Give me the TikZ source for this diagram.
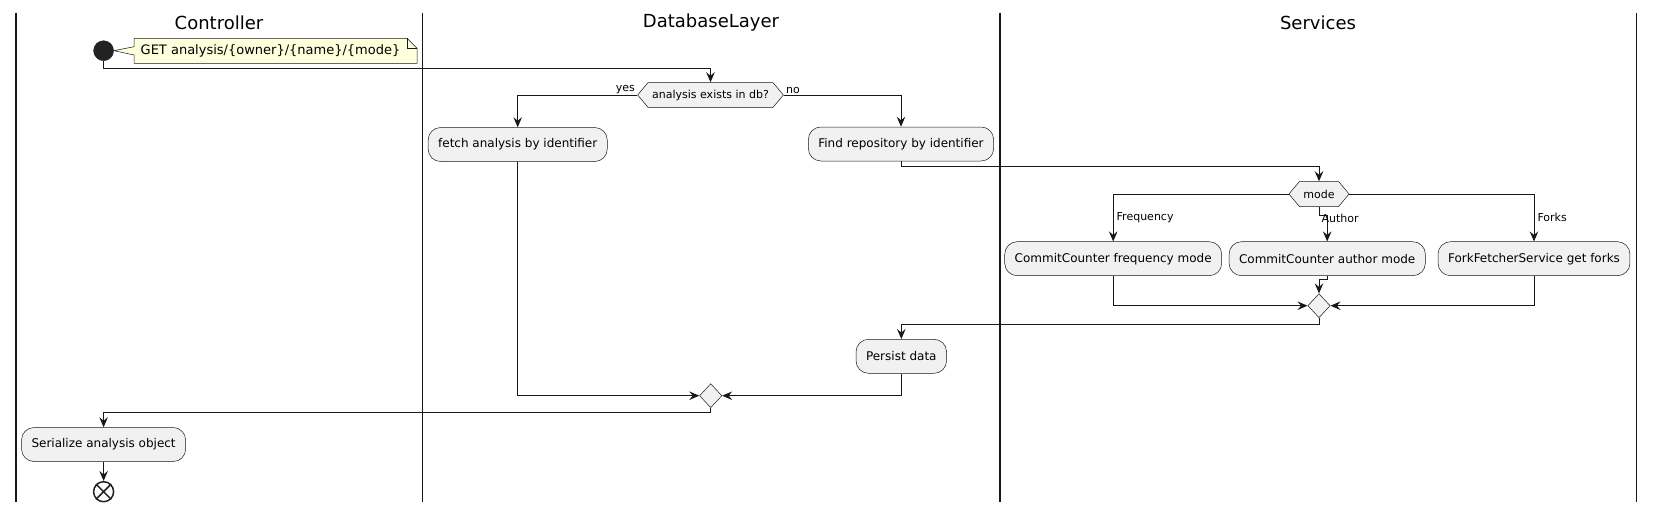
\documentclass[tikz,border=0pt]{standalone}
\usepackage{fontspec}
\setmainfont{DejaVu Sans}
\usetikzlibrary{arrows.meta,shapes.geometric,shapes.symbols,calc}
\definecolor{boxfill}{HTML}{F1F1F1}
\definecolor{ink}{HTML}{181818}
\definecolor{notefill}{HTML}{FEFFDD}
\definecolor{dot}{HTML}{222222}
\begin{document}
\begin{tikzpicture}[x=1pt,y=-1pt,
  lane/.style={draw=ink,line width=1.5pt},
  lanetitle/.style={font=\fontsize{18}{20}\selectfont,inner sep=0pt},
  act/.style={draw=ink,line width=0.5pt,fill=boxfill,rounded corners=12.5pt,
    minimum height=34pt,inner xsep=10pt,inner ysep=0pt,font=\fontsize{12}{14}\selectfont},
  hexa/.style={draw=ink,line width=0.5pt,fill=boxfill,shape=signal,signal to=west and east,
    signal pointer angle=100,minimum height=25pt,inner xsep=4pt,inner ysep=0pt,
    font=\fontsize{11}{13}\selectfont},
  merge/.style={draw=ink,line width=0.5pt,fill=boxfill,shape=diamond,inner sep=0pt,
    minimum width=22.4pt,minimum height=24pt},
  lbl/.style={font=\fontsize{11}{13}\selectfont,inner sep=2pt},
  flow/.style={draw=ink,line width=1pt,-{Stealth[length=10pt,width=8.5pt,inset=3.5pt]}},
]
\useasboundingbox (0,0) rectangle (1655,512);
% swimlanes
\draw[lane] (15.8,12.7) -- (15.8,501.7);
\draw[lane] (422.5,12.7) -- (422.5,501.7);
\draw[lane] (1000,12.7) -- (1000,501.7);
\draw[lane] (1636.5,12.7) -- (1636.5,501.7);
\node[lanetitle] (t1) at (219,23) {Controller};
\node[lanetitle] (t2) at (711,23) {DatabaseLayer};
\node[lanetitle] (t3) at (1318,23) {Services};
% start and note
\node[circle,fill=dot,draw=dot,minimum size=20pt,inner sep=0pt] (start) at (103.6,50.7) {};
\draw[draw=ink,line width=0.5pt,fill=notefill] (134,38.3) -- (407,38.3) -- (417,48.3) -- (417,63.3)
  -- (134,63.3) -- (134,55) -- (114,50.7) -- (134,46.7) -- cycle;
\draw[draw=ink,line width=0.5pt] (407,38.3) -- (407,48.3) -- (417,48.3);
\node[anchor=west,inner sep=0pt,font=\fontsize{13}{15}\selectfont] (note) at (140.5,51) {GET analysis/\{owner\}/\{name\}/\{mode\}};
% nodes
\node[hexa] (q1) at (710.5,95) {analysis exists in db?};
\node[act] (fetch) at (517.7,144.5) {fetch analysis by identifier};
\node[act] (find) at (901,144) {Find repository by identifier};
\node[hexa] (mode) at (1319,194) {mode};
\node[act] (freq) at (1113.2,258.7) {CommitCounter frequency mode};
\node[act] (author) at (1327.2,258.7) {CommitCounter author mode};
\node[act] (forks) at (1534,258.7) {ForkFetcherService get forks};
\node[merge] (m1) at (1319,305.7) {};
\node[act] (persist) at (901.3,356.3) {Persist data};
\node[merge] (m2) at (710.7,395.7) {};
\node[act] (serialize) at (103.6,444.5) {Serialize analysis object};
\node[circle,draw=dot,line width=1.5pt,fill=white,minimum size=20pt,inner sep=0pt] (end) at (103.6,491.7) {};
\draw[draw=dot,line width=1.5pt] (end.45) -- (end.225) (end.135) -- (end.315);
% connectors
\draw[flow] (start.south) -- ++(0,7.6) -| (q1.north);
\draw[flow] (q1.west) node[lbl,anchor=south east,yshift=-1pt]{yes} -| (fetch.north);
\draw[flow] (q1.east) node[lbl,anchor=south west,yshift=-1pt]{no} -| (find.north);
\draw[flow] (find.south) -- ++(0,5) -| (mode.north);
\draw[flow] (mode.west) -| node[lbl,pos=0.75,anchor=west,xshift=1pt]{Frequency} (freq.north);
\draw[flow] (mode.south) -- ++(0,9) node[lbl,anchor=west,yshift=-3pt]{Author} -| (author.north);
\draw[flow] (mode.east) -| node[lbl,pos=0.75,anchor=west,xshift=1pt]{Forks} (forks.north);
\draw[flow] (freq.south) |- (m1.west);
\draw[flow] (author.south) -- ++(0,3.6) -| (m1.north);
\draw[flow] (forks.south) |- (m1.east);
\draw[flow] (m1.south) -- ++(0,6.6) -| (persist.north);
\draw[flow] (persist.south) |- (m2.east);
\draw[flow] (fetch.south) |- (m2.west);
\draw[flow] (m2.south) -- ++(0,4.6) -| (serialize.north);
\draw[flow] (serialize.south) -- (end.north);
\end{tikzpicture}
\end{document}
